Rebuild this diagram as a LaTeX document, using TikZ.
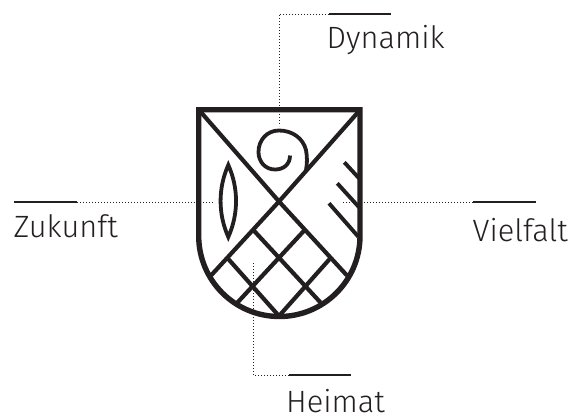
\documentclass[tikz,border=0pt]{standalone}
\usepackage{fontspec}
\setmainfont{Fira Sans}[UprightFont=* Light]
\definecolor{ink}{HTML}{231F20}
\tikzset{
  shield/.style={draw=ink,line width=5.4pt,line join=miter},
  lattice/.style={draw=ink,line width=4.2pt,line cap=butt},
  thin part/.style={draw=ink,line width=3.8pt},
  leader/.style={draw=ink,line width=1pt,dash pattern=on 1pt off 2pt},
  rule/.style={draw=ink,line width=2pt},
  caption/.style={anchor=base west,inner sep=0pt,text=ink,font=\fontsize{30.8}{31}\selectfont}
}
\begin{document}
\begin{tikzpicture}[x=1pt,y=-1pt]
\useasboundingbox (0,0) rectangle (571,416);
% labels
\node[caption] (dyn) at (326.5,48) {Dynamik};
\node[caption] (zuk) at (13.5,237) {Zukunft};
\node[caption] (vie) at (472.5,241) {Vielfalt};
\node[caption] (hei) at (286,412.5) {Heimat};
% rule ends and leader ends
\coordinate (dynA) at (329,14); \coordinate (dynB) at (391,14); \coordinate (dynC) at (279,14); \coordinate (dynD) at (279,126);
\coordinate (zukA) at (14,202); \coordinate (zukB) at (77,202); \coordinate (zukD) at (214,202);
\coordinate (vieA) at (473,202); \coordinate (vieB) at (536,202); \coordinate (vieD) at (342,202);
\coordinate (heiA) at (289,375); \coordinate (heiB) at (351,375); \coordinate (heiC) at (253.5,375); \coordinate (heiD) at (253.5,262);
\draw[leader] (dynA) -- (dynC) -- (dynD);
\draw[leader] (zukB) -- (zukD);
\draw[leader] (vieA) -- (vieD);
\draw[leader] (heiA) -- (heiC) -- (heiD);
\draw[rule] (dynA) -- (dynB);
\draw[rule] (zukA) -- (zukB);
\draw[rule] (vieA) -- (vieB);
\draw[rule] (heiA) -- (heiB);
% diagonals and lattice
\coordinate (apex) at (279,201.5);
\draw[lattice] (199,110) -- (apex) -- (347,275.5);
\draw[lattice] (360,110) -- (apex) -- (211,275.5);
\draw[lattice] (253.3,230) -- (320.5,302.5);
\draw[lattice] (227.7,258.3) -- (279,316);
\draw[lattice] (304.7,230) -- (237.5,302.5);
\draw[lattice] (330.3,258.3) -- (279,316);
% spiral
\draw[thin part,line cap=butt] (306,170) .. controls (307.5,163) and (307,156) .. (306,150)
 .. controls (303,138) and (292,130.5) .. (279,130.5)
 .. controls (267,130.5) and (258.5,140) .. (258.5,152)
 .. controls (258.5,162) and (265.5,169.5) .. (275,169.5)
 .. controls (284,169.5) and (290,164) .. (290,155.5);
% leaf
\draw[thin part,miter limit=10] (228.3,165) .. controls (218,188) and (218,214) .. (228.3,237)
 .. controls (238.6,214) and (238.6,188) .. cycle;
% hatch
\draw[lattice,line width=3.9pt] (344.3,162.3) -- (360,179.3);
\draw[lattice,line width=3.9pt] (337.3,183.3) -- (360,208.3);
\draw[lattice,line width=3.9pt] (329,203.3) -- (358.3,236.7);
% shield
\draw[shield] (198.7,109.7) -- (360,109.7) -- (360,236) arc[start angle=0,end angle=180,x radius=80.65,y radius=80.5] -- cycle;
\end{tikzpicture}
\end{document}
